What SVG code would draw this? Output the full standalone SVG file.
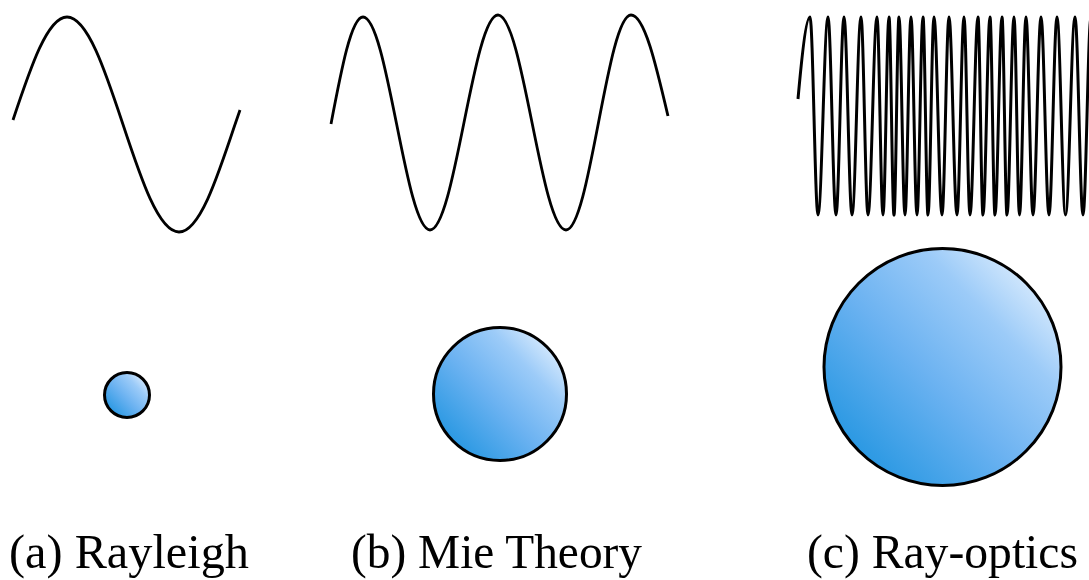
<svg xmlns="http://www.w3.org/2000/svg" width="1089" height="580" viewBox="0 0 1089 580">
  <style>
    .wave { fill: none; stroke: #000; stroke-width: 2.8; stroke-linecap: butt; stroke-linejoin: round; }
    .dense { stroke-width: 3; }
    .particle { fill: url(#blueGrad); stroke: #000; stroke-width: 3; }
    .label { font-family: "Liberation Serif", "Times New Roman", serif; font-size: 49px; fill: #000; }
  </style>
  <defs>
    <linearGradient id="blueGrad" x1="0.08" y1="0.95" x2="0.95" y2="0.12">
      <stop offset="0" stop-color="#1a92df"/>
      <stop offset="0.45" stop-color="#6bb2f1"/>
      <stop offset="0.75" stop-color="#9ccbf8"/>
      <stop offset="1" stop-color="#e2f0fe"/>
    </linearGradient>
  </defs>
  <rect width="1089" height="580" fill="#fff"/>

  <g id="rayleigh">
    <path class="wave" d="M13,120 C30.6,67.2 47.5,17 67,17 C107.8,17 138.2,232 179,232 C199.3,232 216.7,179.5 235,124.5 L240,110"/>
    <circle class="particle" cx="127" cy="395" r="22.5"/>
    <text class="label" x="9" y="568" textLength="240" lengthAdjust="spacingAndGlyphs">(a) Rayleigh</text>
  </g>

  <g id="mie">
    <path class="wave" d="M331,124 C341.4,69.2 351.4,17 363,17 C387.4,17 405.6,230 430,230 C454.7,230 473.3,15 498,15 C522.7,15 541.3,230 566,230 C589.7,230 607.3,15 631,15 C644.4,15 655.9,64.3 668,116"/>
    <circle class="particle" cx="500" cy="394" r="66.5"/>
    <text class="label" x="351" y="568" textLength="291" lengthAdjust="spacingAndGlyphs">(b) Mie Theory</text>
  </g>

  <g id="rayoptics">
    <path class="wave dense" d="M798,99 C801.5,60 806,17 810,17
      C812.9,17 815.1,215 818,215
      C821.6,215 824.4,17 828,17
      C830.9,17 833.1,215 836,215
      C838.9,215 841.1,17 844,17
      C846.9,17 849.1,215 852,215
      C855.3,215 857.7,17 861,17
      C863.5,17 865.5,215 868,215
      C871.3,215 873.7,17 877,17
      C879.2,17 880.8,215 883,215
      C885.2,215 886.8,17 889,17
      C890.8,17 892.2,215 894,215
      C895.8,215 897.2,17 899,17
      C901.2,17 902.8,215 905,215
      C907.2,215 908.8,17 911,17
      C913.2,17 914.8,215 917,215
      C919.2,215 920.8,17 923,17
      C924.8,17 926.2,215 928,215
      C930.2,215 931.8,17 934,17
      C936.9,17 939.1,215 942,215
      C944.5,215 946.5,17 949,17
      C951.9,17 954.1,215 957,215
      C959.5,215 961.5,17 964,17
      C966.2,17 967.8,215 970,215
      C972.9,215 975.1,17 978,17
      C979.8,17 981.2,215 983,215
      C985.5,215 987.5,17 990,17
      C991.8,17 993.2,215 995,215
      C997.5,215 999.5,17 1002,17
      C1003.8,17 1005.2,215 1007,215
      C1009.5,215 1011.5,17 1014,17
      C1016,17 1017.5,215 1019.5,215
      C1021.9,215 1023.6,17 1026,17
      C1028.5,17 1030.5,215 1033,215
      C1035.9,215 1038.1,17 1041,17
      C1043.9,17 1046.1,215 1049,215
      C1051.9,215 1054.1,17 1057,17
      C1060.1,17 1062.4,215 1065.5,215
      C1069,215 1071.5,17 1075,17
      C1077.9,17 1080.1,215 1083,215
      C1085.9,215 1088.1,17 1091,17"/>
    <circle class="particle" cx="942.5" cy="367" r="118.5"/>
    <text class="label" x="807" y="568" textLength="271" lengthAdjust="spacingAndGlyphs">(c) Ray-optics</text>
  </g>
</svg>
